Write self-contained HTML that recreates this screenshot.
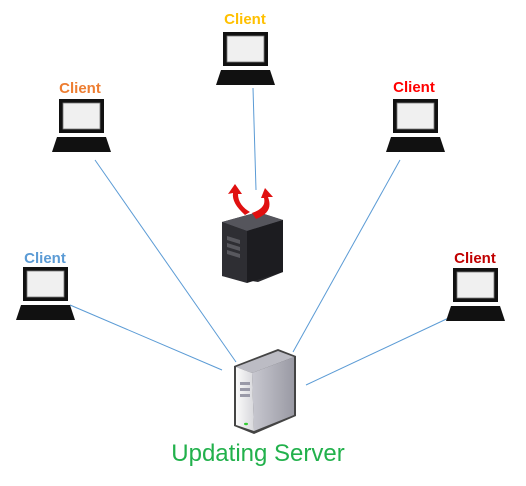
<!DOCTYPE html>
<html><head><style>html,body{margin:0;padding:0;background:#fff}svg{display:block}</style></head>
<body>
<svg width="526" height="486" viewBox="0 0 526 486" xmlns="http://www.w3.org/2000/svg">
<defs>
<g id="lap">
<rect x="7" y="0" width="45" height="34" fill="#111"/>
<rect x="11" y="4" width="37" height="26" fill="#f0f0f0" stroke="#777" stroke-width="0.8"/>
<polygon points="5,38 54,38 59,53 0,53" fill="#111"/>
</g>
<linearGradient id="sf" x1="0" x2="1"><stop offset="0" stop-color="#fafafa"/><stop offset="1" stop-color="#d8d8dc"/></linearGradient>
<linearGradient id="ss" x1="0" x2="1"><stop offset="0" stop-color="#c8c8d0"/><stop offset="1" stop-color="#9a9aa4"/></linearGradient>
</defs>
<g stroke="#5b9bd5" stroke-width="1" fill="none">
<line x1="253" y1="88" x2="256" y2="190"/>
<line x1="95" y1="160" x2="236" y2="362"/>
<line x1="400" y1="160" x2="293" y2="352"/>
<line x1="70" y1="305" x2="222" y2="370"/>
<line x1="455" y1="315" x2="306" y2="385"/>
</g>
<g font-family="Liberation Sans, sans-serif" font-weight="bold" font-size="15" text-anchor="middle">
<text x="245" y="24" fill="#ffc000">Client</text>
<text x="80" y="93" fill="#ed7d31">Client</text>
<text x="414" y="92" fill="#ff0000">Client</text>
<text x="45" y="263" fill="#5b9bd5">Client</text>
<text x="475" y="263" fill="#c00000">Client</text>
</g>
<use href="#lap" x="216" y="32"/>
<use href="#lap" x="52" y="99"/>
<use href="#lap" x="386" y="99"/>
<use href="#lap" x="16" y="267"/>
<use href="#lap" x="446" y="268"/>
<!-- dark server -->
<polygon points="222,222 258,212 283,220 283,272 258,282 222,276" fill="#2a2a2e"/>
<polygon points="222,222 258,212 283,220 247,231" fill="#55555c"/>
<polygon points="222,222 247,231 247,283 222,276" fill="#2e2e33"/>
<polygon points="247,231 283,220 283,272 247,283" fill="#1c1c20"/>
<g fill="#58585e"><polygon points="227,236 240,240 240,244 227,240"/><polygon points="227,243 240,247 240,251 227,247"/><polygon points="227,250 240,254 240,258 227,254"/></g>
<path d="M245,215 C236,207 232,200 233,193 L228,194 L235,184 L242,194 L238,194 C238,202 243,208 250,212 Z" fill="#e01010"/>
<path d="M256,219 C268,214 272,208 268,197 L273,197 L265,188 L261,198 L264,198 C266,206 260,210 252,213 Z" fill="#e01010"/>
<!-- updating server -->
<polygon points="234,366 278,349 296,356 296,416 254,434 234,426" fill="#444"/>
<polygon points="236,367 278,351 294,357 252,373" fill="#bcbcc4"/>
<polygon points="252,373 294,357 294,415 254,431" fill="url(#ss)"/>
<polygon points="236,367 252,373 254,431 236,425" fill="url(#sf)"/>
<g fill="#9a9aa8"><rect x="240" y="382" width="10" height="3"/><rect x="240" y="388" width="10" height="3"/><rect x="240" y="394" width="10" height="3"/></g>
<ellipse cx="246" cy="424" rx="2" ry="1.2" fill="#3c3"/>
<text x="258" y="461" font-family="Liberation Sans, sans-serif" font-size="24" fill="#22b14c" text-anchor="middle">Updating Server</text>
</svg>
</body></html>
